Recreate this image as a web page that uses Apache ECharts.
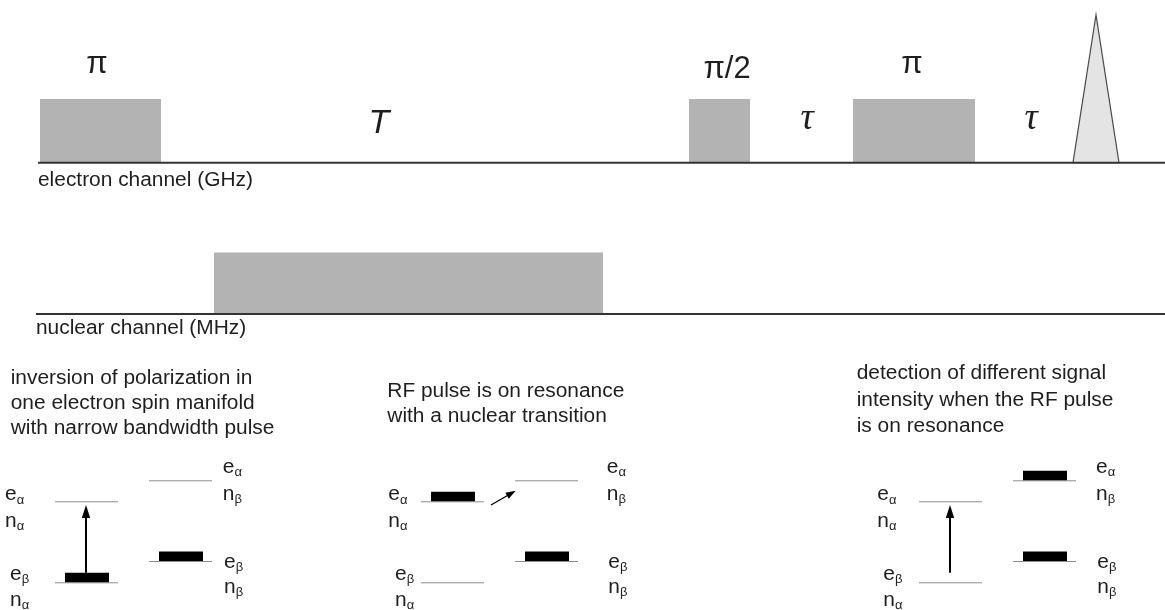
<!DOCTYPE html>
<html>
<head>
<meta charset="utf-8">
<script src="https://cdn.jsdelivr.net/npm/echarts@6/dist/echarts.min.js"></script>
<style>
  html, body { margin: 0; padding: 0; background: #fff; }
  #chart { width: 1165px; height: 610px; }
</style>
</head>
<body>
<div id="chart"></div>
<script>
// ---------------------------------------------------------------------------
// Davies ENDOR pulse sequence and the level populations at each stage.
// The drawing uses one value grid: x runs along the time axis, y runs down
// the page (inverted axis), so every mark below is placed through api.coord.
// ---------------------------------------------------------------------------

// Pulse sequence ------------------------------------------------------------
const channelBaseline = [162.7, 314];          // electron, nuclear
const channelLineStart = [38, 36];
const channelLabels = ['electron channel (GHz)', 'nuclear channel (MHz)'];

const electronPulseStart = [40, 689, 853];
const electronPulseEnd = [161, 750, 975];
const electronPulseAmp = [63.7, 63.7, 63.7];
const electronPulseLabels = ['π', 'π/2', 'π'];

const nuclearPulseStart = [214];
const nuclearPulseEnd = [603];
const nuclearPulseAmp = [61.5];

const echoStart = [1073];
const echoPeak = [1096];
const echoEnd = [1119];
const echoAmp = [147.7];

const delayLabels = ['T', 'τ', 'τ'];
const delayCenters = [379, 807, 1031];

// Energy-level diagrams -----------------------------------------------------
const panelTexts = [
  ['inversion of polarization in', 'one electron spin manifold', 'with narrow bandwidth pulse'],
  ['RF pulse is on resonance', 'with a nuclear transition'],
  ['detection of different signal', 'intensity when the RF pulse', 'is on resonance']
];
// four levels: |eα nα>, |eβ nα>, |eα nβ>, |eβ nβ>
const levelElectron = ['α', 'β', 'α', 'β'];
const levelNuclear = ['α', 'α', 'β', 'β'];
const levelEnergy = [501.3, 582.3, 480.3, 561];
const levelColumn = [0, 0, 1, 1];
// levels carrying the population bar in each panel
const panelPopulated = [[1, 3], [0, 3], [2, 3]];
// driven transition in each panel: [from, to]
const panelTransition = [[1, 0], [0, 2], [1, 0]];

// Layout --------------------------------------------------------------------
const W = 1165, H = 610;
const SANS = '"Liberation Sans", Arial, Helvetica, sans-serif';
const SERIF = '"Liberation Serif", "Times New Roman", serif';
const INK = '#1e1e1e';
const TEXT_SCALE = 1.045;

const pulseLabelX = [97, 727, 912];
const pulseLabelY = [64.4, 69.4, 64.4];
const delayLabelY = [123.2, 118.9, 118.9];
const channelLabelX = [38, 36];
const channelLabelY = [180, 328];

const panelLeft = [55, 421, 919];
const columnGap = 94, levelWidth = 63;
const barInset = 10, barWidth = 44, barHeight = 9.5;
const panelTextX = [10.7, 387.3, 856.7];
const panelTextY = [[378, 403, 428], [391, 416], [373, 400, 426]];
const leftLabelX = [[5, 10], [388.3, 395], [877.3, 883.3]];      // upper, lower
const rightLabelX = [[222.7, 224], [606.7, 608.3], [1096, 1097.3]];
const labelOffsetE = [-4.5, -6, -11.3, 3];
const labelOffsetN = [22, 20, 15.7, 28];

function font(size, family, italic) {
  return (italic ? 'italic ' : '') + size + 'px ' + family;
}
function textEl(x, y, str, f, align, scaleX) {
  return {
    type: 'text', x: x, y: y, scaleX: scaleX || 1,
    style: { text: str, font: f, fill: INK, align: align || 'left', verticalAlign: 'middle' }
  };
}
function arrowHead(tip, from, len, half) {
  const dx = tip[0] - from[0], dy = tip[1] - from[1];
  const d = Math.sqrt(dx * dx + dy * dy);
  const ux = dx / d, uy = dy / d;
  const bx = tip[0] - ux * len, by = tip[1] - uy * len;
  return [tip, [bx - uy * half, by + ux * half], [bx + uy * half, by - ux * half]];
}

// series data ---------------------------------------------------------------
const pulseData = electronPulseStart.map((s, i) => [s, electronPulseEnd[i], channelBaseline[0], electronPulseAmp[i]])
  .concat(nuclearPulseStart.map((s, i) => [s, nuclearPulseEnd[i], channelBaseline[1], nuclearPulseAmp[i]]));
const echoData = echoStart.map((s, i) => [s, echoPeak[i], echoEnd[i], channelBaseline[0], echoAmp[i]]);
const channelData = channelBaseline.map((y, i) => [channelLineStart[i], y, i]);
const pulseLabelData = electronPulseLabels.map((t, i) => [pulseLabelX[i], pulseLabelY[i], i]);
const delayData = delayCenters.map((x, i) => [x, delayLabelY[i], i]);
const channelLabelData = channelLabels.map((t, i) => [channelLabelX[i], channelLabelY[i], i]);

const levelData = [];
panelLeft.forEach((x0, p) => {
  levelEnergy.forEach((e, l) => {
    const xs = x0 + levelColumn[l] * columnGap;
    levelData.push([xs, xs + levelWidth, e, p, l]);
  });
});
const barData = [];
panelPopulated.forEach((lv, p) => lv.forEach(l => {
  const xs = panelLeft[p] + levelColumn[l] * columnGap + barInset;
  barData.push([xs, xs + barWidth, levelEnergy[l], barHeight]);
}));
const transitionData = panelTransition.map((t, p) => [p, t[0], t[1]]);
const levelLabelData = [];
panelLeft.forEach((x0, p) => levelEnergy.forEach((e, l) => levelLabelData.push([p, l, e])));
const panelTextData = [];
panelTexts.forEach((lines, p) => lines.forEach((s, k) => panelTextData.push([panelTextX[p], panelTextY[p][k], p, k])));

const chart = echarts.init(document.getElementById('chart'));

chart.setOption({
  animation: false,
  backgroundColor: '#ffffff',
  grid: { left: 0, right: 0, top: 0, bottom: 0 },
  xAxis: { type: 'value', min: 0, max: W, show: false },
  yAxis: { type: 'value', min: 0, max: H, inverse: true, show: false },
  series: [
    { // rectangular pulses
      type: 'custom', silent: true, data: pulseData,
      renderItem: (params, api) => {
        const a = api.coord([api.value(0), api.value(2) - api.value(3)]);
        const b = api.coord([api.value(1), api.value(2)]);
        return { type: 'rect', shape: { x: a[0], y: a[1], width: b[0] - a[0], height: b[1] - a[1] },
                 style: { fill: '#b3b3b3' } };
      }
    },
    { // echo
      type: 'custom', silent: true, data: echoData,
      renderItem: (params, api) => {
        const base = api.value(3);
        const pts = [
          api.coord([api.value(0), base]),
          api.coord([api.value(1), base - api.value(4)]),
          api.coord([api.value(2), base])
        ];
        return { type: 'polygon', shape: { points: pts },
                 style: { fill: '#e4e4e4', stroke: '#4a4a4a', lineWidth: 1.2 } };
      }
    },
    { // channel baselines
      type: 'custom', silent: true, data: channelData,
      renderItem: (params, api) => {
        const a = api.coord([api.value(0), api.value(1)]);
        const b = api.coord([W, api.value(1)]);
        return { type: 'line', shape: { x1: a[0], y1: a[1], x2: b[0], y2: b[1] },
                 style: { stroke: '#333333', lineWidth: 2 } };
      }
    },
    { // pulse flip angles
      type: 'custom', silent: true, data: pulseLabelData,
      renderItem: (params, api) => {
        const c = api.coord([api.value(0), api.value(1)]);
        return textEl(c[0], c[1], electronPulseLabels[api.value(2)], font(31, SANS), 'center');
      }
    },
    { // delays
      type: 'custom', silent: true, data: delayData,
      renderItem: (params, api) => {
        const i = api.value(2);
        const c = api.coord([api.value(0), api.value(1)]);
        const f = i === 0 ? font(34, SANS, true) : font(37, SERIF, true);
        return textEl(c[0], c[1], delayLabels[i], f, 'center');
      }
    },
    { // channel names
      type: 'custom', silent: true, data: channelLabelData,
      renderItem: (params, api) => {
        const c = api.coord([api.value(0), api.value(1)]);
        return textEl(c[0], c[1], channelLabels[api.value(2)], font(20, SANS), 'left', TEXT_SCALE);
      }
    },
    { // energy levels
      type: 'custom', silent: true, data: levelData,
      renderItem: (params, api) => {
        const a = api.coord([api.value(0), api.value(2)]);
        const b = api.coord([api.value(1), api.value(2)]);
        return { type: 'line', shape: { x1: a[0], y1: a[1] + 0.5, x2: b[0], y2: b[1] + 0.5 },
                 style: { stroke: '#8c8c8c', lineWidth: 1 } };
      }
    },
    { // populations
      type: 'custom', silent: true, data: barData,
      renderItem: (params, api) => {
        const a = api.coord([api.value(0), api.value(2) - api.value(3)]);
        const b = api.coord([api.value(1), api.value(2)]);
        return { type: 'rect', shape: { x: a[0], y: a[1], width: b[0] - a[0], height: b[1] - a[1] },
                 style: { fill: '#000000' } };
      }
    },
    { // driven transitions
      type: 'custom', silent: true, data: transitionData,
      renderItem: (params, api) => {
        const p = api.value(0), from = api.value(1), to = api.value(2);
        let s, t, w, len, half;
        if (levelColumn[from] === levelColumn[to]) {
          // electron transition inside one nuclear manifold
          const x = panelLeft[p] + levelColumn[from] * columnGap + levelWidth / 2 - 0.5;
          s = api.coord([x, levelEnergy[from] - barHeight]);
          t = api.coord([x, levelEnergy[to] + 3.7]);
          w = 2; len = 13; half = 4.2;
        } else {
          // RF driven nuclear transition between the manifolds
          const x0 = panelLeft[p] + levelColumn[from] * columnGap + levelWidth + 7;
          const x1 = panelLeft[p] + levelColumn[to] * columnGap + 0.7;
          s = api.coord([x0, levelEnergy[from] + 3.7]);
          t = api.coord([x1, levelEnergy[to] + 10.4]);
          w = 1.3; len = 10; half = 3.4;
        }
        const head = arrowHead(t, s, len, half);
        const ux = (t[0] - s[0]), uy = (t[1] - s[1]);
        const d = Math.sqrt(ux * ux + uy * uy);
        const e = [t[0] - ux / d * (len - 2), t[1] - uy / d * (len - 2)];
        return { type: 'group', children: [
          { type: 'line', shape: { x1: s[0], y1: s[1], x2: e[0], y2: e[1] }, style: { stroke: '#000', lineWidth: w } },
          { type: 'polygon', shape: { points: head }, style: { fill: '#000' } }
        ] };
      }
    },
    { // level labels
      type: 'custom', silent: true, data: levelLabelData,
      renderItem: (params, api) => {
        const p = api.value(0), l = api.value(1), y = api.value(2);
        const lower = (l === 1 || l === 3) ? 1 : 0;
        const x = levelColumn[l] === 0 ? leftLabelX[p][lower] : rightLabelX[p][lower];
        const ce = api.coord([x, y + labelOffsetE[l]]);
        const cn = api.coord([x, y + labelOffsetN[l]]);
        const big = font(20, SANS), small = font(13, SANS);
        const subDx = 11.7;
        return { type: 'group', children: [
          textEl(ce[0], ce[1] - 2, 'e', big, 'left', TEXT_SCALE),
          textEl(ce[0] + subDx, ce[1] + 3.5, levelElectron[l], small, 'left'),
          textEl(cn[0], cn[1] - 2, 'n', big, 'left', TEXT_SCALE),
          textEl(cn[0] + subDx, cn[1] + 3.5, levelNuclear[l], small, 'left')
        ] };
      }
    },
    { // stage descriptions
      type: 'custom', silent: true, data: panelTextData,
      renderItem: (params, api) => {
        const c = api.coord([api.value(0), api.value(1)]);
        return textEl(c[0], c[1], panelTexts[api.value(2)][api.value(3)], font(20, SANS), 'left', TEXT_SCALE);
      }
    }
  ]
});
</script>
</body>
</html>
